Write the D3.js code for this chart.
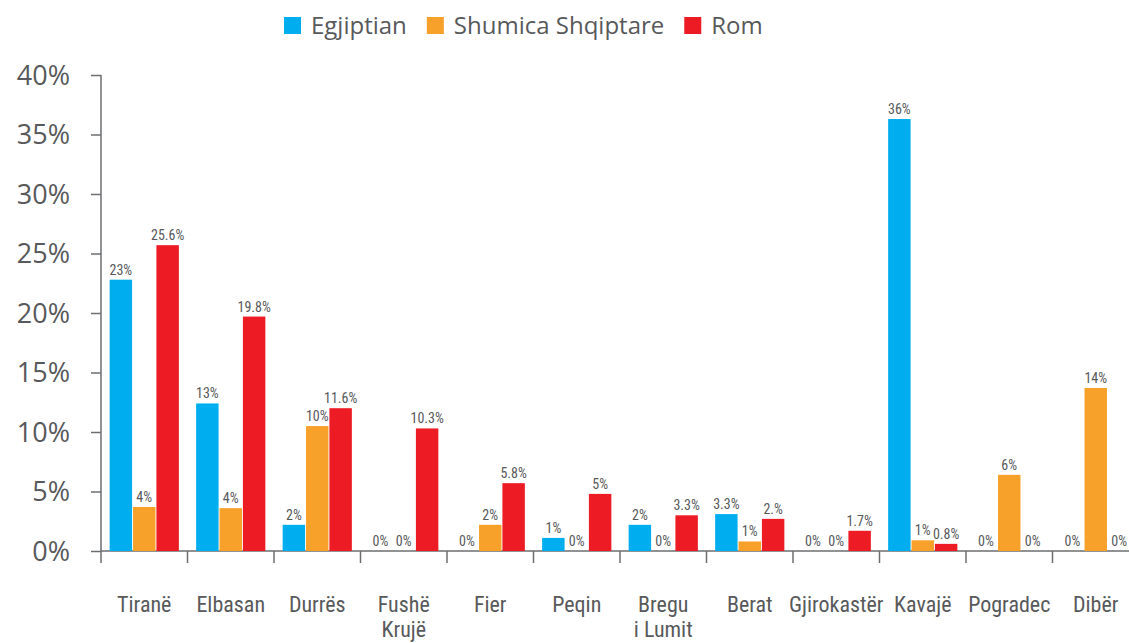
<!DOCTYPE html>
<html>
<head>
<meta charset="utf-8">
<script src="https://cdn.jsdelivr.net/npm/d3@7"></script>
<style>
  body { margin: 0; background: #fff; }
  text { fill: #58595b; }
  .narrow { font-family: "Liberation Sans Narrow", "Roboto Condensed", "DejaVu Sans Condensed", sans-serif; }
  .wide { font-family: "Open Sans", "Noto Sans", sans-serif; }
</style>
</head>
<body>
<div id="chart"></div>
<script>
var categories = ["Tiranë", "Elbasan", "Durrës", "Fushë\nKrujë", "Fier", "Peqin", "Bregu\ni Lumit", "Berat", "Gjirokastër", "Kavajë", "Pogradec", "Dibër"];
var seriesNames = ["Egjiptian", "Shumica Shqiptare", "Rom"];
var seriesColors = ["#00aeef", "#f7a12b", "#ed1c24"];

// bar heights
var egjiptian = [22.8, 12.4, 2.2, 0, 0, 1.1, 2.2, 3.1, 0, 36.3, 0, 0];
var shumica   = [3.7, 3.6, 10.5, 0, 2.2, 0, 0, 0.8, 0, 0.9, 6.4, 13.7];
var rom       = [25.7, 19.7, 12.0, 10.3, 5.7, 4.8, 3.0, 2.7, 1.7, 0.6, 0, 0];

// labels as printed on the chart
var egjiptianLabels = ["23%", "13%", "2%", "0%", "0%", "1%", "2%", "3.3%", "0%", "36%", "0%", "0%"];
var shumicaLabels   = ["4%", "4%", "10%", "0%", "2%", "0%", "0%", "1%", "0%", "1%", "6%", "14%"];
var romLabels       = ["25.6%", "19.8%", "11.6%", "10.3%", "5.8%", "5%", "3.3%", "2.%", "1.7%", "0.8%", "0%", "0%"];

var yTicks = [0, 5, 10, 15, 20, 25, 30, 35, 40];

var width = 1129, height = 643;
var plotLeft = 101, plotRight = 1139, plotTop = 75, plotBottom = 551;

var values = [egjiptian, shumica, rom];
var labels = [egjiptianLabels, shumicaLabels, romLabels];

var svg = d3.select("#chart").append("svg")
    .attr("width", width)
    .attr("height", height);

var x = d3.scaleBand()
    .domain(categories)
    .range([plotLeft, plotRight])
    .paddingInner(0.2)
    .paddingOuter(0.1);

var xs = d3.scaleBand()
    .domain(seriesNames)
    .range([0, x.bandwidth()])
    .paddingInner(0.04);

var y = d3.scaleLinear()
    .domain([0, 40])
    .range([plotBottom, plotTop]);

var axisColor = "#6d6e71";

// y axis
var yAxis = svg.append("g")
    .attr("transform", "translate(" + plotLeft + ",0)")
    .call(d3.axisLeft(y).tickValues(yTicks).tickSize(10).tickFormat(function(d) { return d + "%"; }));
yAxis.select(".domain").remove();
yAxis.selectAll(".tick line").attr("stroke", axisColor).attr("stroke-width", 1.5);
yAxis.selectAll(".tick text")
    .attr("class", "wide")
    .attr("x", -31)
    .attr("dy", "0.35em")
    .style("font-size", "27px")
    .attr("fill", "#58595b");

svg.append("line")
    .attr("x1", plotLeft).attr("x2", plotLeft)
    .attr("y1", plotTop).attr("y2", plotBottom + 12)
    .attr("stroke", axisColor).attr("stroke-width", 1.5);

// x axis line and category separators
svg.append("line")
    .attr("x1", plotLeft).attr("x2", plotRight)
    .attr("y1", plotBottom).attr("y2", plotBottom)
    .attr("stroke", axisColor).attr("stroke-width", 1.5);

svg.selectAll("line.sep")
    .data(d3.range(1, categories.length))
    .enter().append("line")
    .attr("class", "sep")
    .attr("x1", function(i) { return plotLeft + i * x.step(); })
    .attr("x2", function(i) { return plotLeft + i * x.step(); })
    .attr("y1", plotBottom)
    .attr("y2", plotBottom + 12)
    .attr("stroke", axisColor).attr("stroke-width", 1.5);

// bars
var groups = svg.selectAll("g.cat")
    .data(categories)
    .enter().append("g")
    .attr("class", "cat")
    .attr("transform", function(d) { return "translate(" + x(d) + ",0)"; });

seriesNames.forEach(function(s, si) {
  groups.append("rect")
      .attr("x", xs(s))
      .attr("width", xs.bandwidth())
      .attr("y", function(d, i) { return y(values[si][i]); })
      .attr("height", function(d, i) { return plotBottom - y(values[si][i]); })
      .attr("fill", seriesColors[si]);

  groups.append("text")
      .attr("class", "narrow")
      .attr("x", xs(s) + xs.bandwidth() / 2)
      .attr("y", function(d, i) { return y(values[si][i]) - 5; })
      .attr("text-anchor", "middle")
      .style("font-size", "14px")
      .text(function(d, i) { return labels[si][i]; });
});

// category labels
var catText = svg.selectAll("text.catlabel")
    .data(categories)
    .enter().append("text")
    .attr("class", "narrow catlabel")
    .attr("x", function(d) { return x(d) + x.bandwidth() / 2; })
    .attr("y", 612)
    .attr("text-anchor", "middle")
    .style("font-size", "22px");
catText.selectAll("tspan")
    .data(function(d) { return d.split("\n"); })
    .enter().append("tspan")
    .attr("x", function() { return d3.select(this.parentNode).attr("x"); })
    .attr("dy", function(d, i) { return i === 0 ? 0 : 25; })
    .text(function(d) { return d; });

// legend
var lx = 284;
seriesNames.forEach(function(s, si) {
  svg.append("rect")
      .attr("x", lx).attr("y", 17)
      .attr("width", 17).attr("height", 17)
      .attr("fill", seriesColors[si]);
  var t = svg.append("text")
      .attr("class", "wide")
      .attr("x", lx + 27).attr("y", 34)
      .style("font-size", "24px")
      .text(s);
  lx += 27 + t.node().getComputedTextLength() + 20;
});
</script>
</body>
</html>
